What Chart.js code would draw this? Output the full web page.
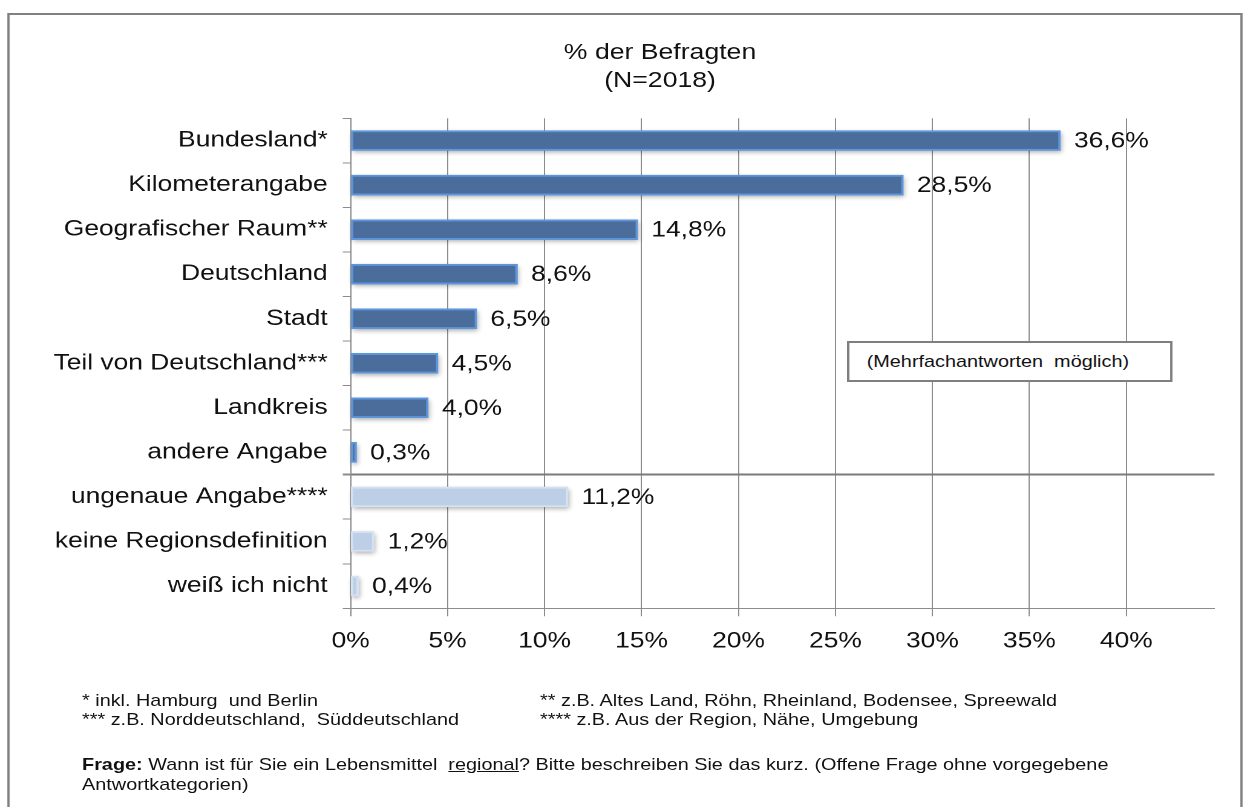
<!DOCTYPE html>
<html><head><meta charset="utf-8">
<script src="https://cdn.jsdelivr.net/npm/chart.js@4.4.1/dist/chart.umd.min.js"></script>
<style>
html,body{margin:0;padding:0;background:#fff;overflow:hidden;width:1245px;height:807px;}
#wrap{position:absolute;left:0;top:0;width:1029px;height:807px;transform:scaleX(1.21);transform-origin:0 0;font-family:'Liberation Sans',Arial,sans-serif;color:#111;}
#frame{position:absolute;left:6px;top:13px;width:1021px;height:900px;border:2px solid #808080;box-sizing:border-box;}
#chart{position:absolute;left:0;top:0;}
#title{position:absolute;left:345.5px;width:400px;top:38px;text-align:center;font-size:22px;line-height:28px;white-space:nowrap;}
.note{position:absolute;font-size:16.4px;line-height:19px;white-space:nowrap;}
#box{position:absolute;left:700px;top:341px;width:269px;height:41px;border:2px solid #7f7f7f;box-sizing:border-box;font-size:16.4px;line-height:37px;padding-left:14.3px;white-space:nowrap;background:#fff;}
</style></head><body>
<div id="wrap">
  <div id="frame"></div>
  <canvas id="chart"></canvas>
  <div id="title"></div>
  <div id="box">(Mehrfachantworten&nbsp; möglich)</div>
  <div class="note" style="left:67.8px;top:691px;">* inkl. Hamburg&nbsp; und Berlin<br>*** z.B. Norddeutschland,&nbsp; Süddeutschland</div>
  <div class="note" style="left:446.3px;top:691px;">** z.B. Altes Land, Röhn, Rheinland, Bodensee, Spreewald<br>**** z.B. Aus der Region, Nähe, Umgebung</div>
  <div class="note" style="left:67.8px;top:754px;line-height:20px;"><b>Frage:</b> Wann ist für Sie ein Lebensmittel&nbsp; <u>regional</u>? Bitte beschreiben Sie das kurz. (Offene Frage ohne vorgegebene<br>Antwortkategorien)</div>
</div>
<script>
const categories = ['Bundesland*','Kilometerangabe','Geografischer Raum**','Deutschland','Stadt','Teil von Deutschland***','Landkreis','andere Angabe','ungenaue Angabe****','keine Regionsdefinition','weiß ich nicht'];
const values = [36.6, 28.5, 14.8, 8.6, 6.5, 4.5, 4.0, 0.3, 11.2, 1.2, 0.4];
const tickValues = [0, 5, 10, 15, 20, 25, 30, 35, 40];
const titleLines = ['% der Befragten', '(N=2018)'];
const specificCount = 8; // first 8 categories are concrete region definitions

document.getElementById('title').innerHTML = titleLines.join('<br>');

const FONT = "'Liberation Sans', Arial, sans-serif";
Chart.defaults.font.family = FONT;
Chart.defaults.color = '#111';

const canvas = document.getElementById('chart');
canvas.style.width = '1029px';
canvas.style.height = '660px';

const shadowPlugin = {
  id: 'barShadow',
  beforeDatasetsDraw(chart) {
    const ctx = chart.ctx;
    const meta = chart.getDatasetMeta(0);
    ctx.save();
    ctx.shadowColor = 'rgba(0,0,0,0.33)';
    ctx.shadowBlur = 9;
    ctx.shadowOffsetX = 2;
    ctx.shadowOffsetY = 4;
    ctx.fillStyle = '#ffffff';
    meta.data.forEach(el => {
      const p = el.getProps(['x','y','base','height'], true);
      ctx.fillRect(p.base, p.y - p.height / 2, p.x - p.base, p.height);
    });
    ctx.restore();
  }
};

const labelPlugin = {
  id: 'valueLabels',
  afterDraw(chart) {
    const ctx = chart.ctx;
    const meta = chart.getDatasetMeta(0);
    ctx.save();
    ctx.font = '21.8px ' + FONT;
    ctx.fillStyle = '#111';
    ctx.textBaseline = 'middle';
    ctx.textAlign = 'left';
    meta.data.forEach((el, i) => {
      const p = el.getProps(['x','y'], true);
      const txt = values[i].toFixed(1).replace('.', ',') + '%';
      ctx.fillText(txt, p.x + 11.3, p.y + 1);
    });
    ctx.restore();
  }
};

new Chart(canvas, {
  type: 'bar',
  data: {
    labels: categories,
    datasets: [{
      data: values,
      backgroundColor: values.map((v, i) => i < specificCount ? '#4a6d9c' : '#bccfe6'),
      borderColor: values.map((v, i) => i < specificCount ? '#5e96dc' : '#d4e1f1'),
      borderWidth: 2,
      borderSkipped: false,
      barThickness: 20
    }]
  },
  options: {
    indexAxis: 'y',
    responsive: false,
    devicePixelRatio: 2,
    animation: false,
    layout: { padding: { left: 0, right: 25.3, top: 118.3, bottom: 0 } },
    plugins: {
      legend: { display: false },
      tooltip: { enabled: false },
      title: { display: false }
    },
    scales: {
      x: {
        type: 'linear',
        min: 0,
        max: 44.55,
        afterBuildTicks: s => { s.ticks = tickValues.map(v => ({ value: v })); },
        afterFit: s => { s.height = 51.7; },
        ticks: { callback: v => v + '%', font: { size: 21.8 }, color: '#111', padding: 12, maxRotation: 0, autoSkip: false },
        grid: { color: '#8c8c8c', lineWidth: 1, tickLength: 8, drawTicks: true },
        border: { color: '#8c8c8c', width: 1 }
      },
      y: {
        type: 'category',
        afterFit: s => { s.width = 289.8; },
        ticks: { font: { size: 21.8 }, color: '#111', padding: 12.5, autoSkip: false },
        grid: {
          offset: true,
          color: c => c.index === specificCount ? '#7a7a7a' : 'rgba(0,0,0,0)',
          lineWidth: c => c.index === specificCount ? 2 : 1,
          tickColor: '#8c8c8c',
          tickLength: 6.5
        },
        border: { color: '#8c8c8c', width: 1 }
      }
    }
  },
  plugins: [shadowPlugin, labelPlugin]
});
</script>
</body></html>
